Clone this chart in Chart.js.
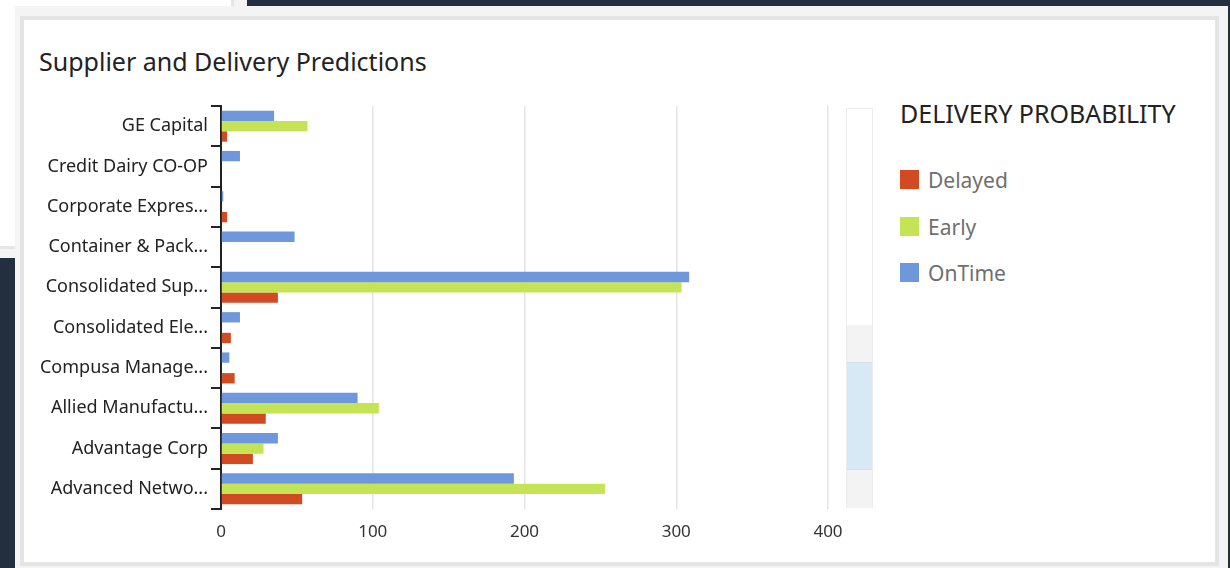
<!DOCTYPE html>
<html>
<head>
<meta charset="utf-8">
<script src="https://cdn.jsdelivr.net/npm/chart.js@4/dist/chart.umd.min.js"></script>
<style>
  html, body { margin: 0; padding: 0; }
  body { width: 1230px; height: 568px; background: #232f3e; position: relative; overflow: hidden; font-family: "Noto Sans", sans-serif; }
  .abs { position: absolute; box-sizing: border-box; }
  #backPanel { left: 0; top: 0; width: 247px; height: 258px; background: #f4f4f4; }
  #sidePanel { left: 0; top: 0; width: 234px; height: 249px; background: #fff; border-right: 3px solid #e6e6e6; border-bottom: 3px solid #e6e6e6; }
  #outer { left: 15px; top: 6px; width: 1213px; height: 570px; background: #f4f4f4; }
  #card { left: 20px; top: 16px; width: 1199px; height: 550px; background: #fff; border: 4px solid #e4e4e4; }
  #title { left: 39px; top: 44px; font-size: 25px; line-height: 34px; color: #222; white-space: nowrap; }
  #wrap { left: 24px; top: 91px; width: 840px; height: 458px; }
  #scroll { left: 846px; top: 108px; width: 27px; height: 400px; border: 1px solid #ececec; background: #fff; }
  .seg { position: absolute; left: 0; width: 25px; }
  #legendTitle { left: 900px; top: 97px; font-size: 25px; line-height: 32px; color: #222; white-space: nowrap; }
  .item { position: absolute; left: 900px; height: 20px; font-size: 21px; line-height: 20px; color: #6f6f6f; white-space: nowrap; }
  .item span { display: inline-block; width: 19px; height: 19px; vertical-align: top; margin-right: 9px; }
</style>
</head>
<body>
<div class="abs" id="backPanel"></div>
<div class="abs" id="sidePanel"></div>
<div class="abs" id="outer"></div>
<div class="abs" id="card"></div>
<div class="abs" id="title">Supplier and Delivery Predictions</div>
<div class="abs" id="wrap"><canvas id="chart"></canvas></div>
<div class="abs" id="scroll">
  <div class="seg" style="top:216px;height:37px;background:#f3f3f3;"></div>
  <div class="seg" style="top:253px;height:108px;background:#d8e9f6;border-top:1px solid #cfe0ee;border-bottom:1px solid #cfe0ee;box-sizing:border-box;"></div>
  <div class="seg" style="top:361px;height:38px;background:#f3f3f3;"></div>
</div>
<div class="abs" id="legendTitle">DELIVERY PROBABILITY</div>
<div id="legend"></div>
<script>
// Категории (сверху вниз)
const suppliers = [
    'GE Capital',
    'Credit Dairy CO-OP',
    'Corporate Expres...',
    'Container & Pack...',
    'Consolidated Sup...',
    'Consolidated Ele...',
    'Compusa Manage...',
    'Allied Manufactu...',
    'Advantage Corp',
    'Advanced Netwo...'
];

// Значения серий
const onTime  = [35, 12.5, 1.5, 48.5, 308.5, 12.5, 5.5, 90, 37.5, 193];
const early   = [57, 0, 0, 0, 303.5, 0, 0, 104, 28, 253];
const delayed = [4, 0, 4, 0, 37.5, 6.5, 9, 29.5, 21, 53.5];

const xTicks = [0, 100, 200, 300, 400];

const COLORS = { Delayed: '#d14a22', Early: '#c5e455', OnTime: '#6e97dc' };

// Легенда (HTML)
const legendItems = ['Delayed', 'Early', 'OnTime'];
const legendTops = [170, 217, 263];
legendItems.forEach((name, i) => {
    const el = document.createElement('div');
    el.className = 'item';
    el.style.top = legendTops[i] + 'px';
    el.innerHTML = `<span style="background:${COLORS[name]}"></span>${name}`;
    document.getElementById('legend').appendChild(el);
});

const ctx = document.getElementById('chart').getContext('2d');
const chart = new Chart(ctx, {
    type: 'bar',
    data: {
        labels: suppliers,
        datasets: [
            { label: 'OnTime', data: onTime, backgroundColor: COLORS.OnTime },
            { label: 'Early', data: early, backgroundColor: COLORS.Early },
            { label: 'Delayed', data: delayed, backgroundColor: COLORS.Delayed }
        ]
    },
    options: {
        indexAxis: 'y',
        responsive: true,
        maintainAspectRatio: false,
        animation: false,
        datasets: {
            bar: { categoryPercentage: 0.77, barPercentage: 1.0 }
        },
        layout: { padding: { top: 15, right: 36, left: 0, bottom: 0 } },
        plugins: {
            legend: { display: false },
            tooltip: { enabled: false }
        },
        scales: {
            x: {
                min: 0,
                max: 400,
                afterBuildTicks: (scale) => { scale.ticks = xTicks.map(v => ({ value: v })); },
                afterFit: (scale) => { scale.height = 40; },
                border: { display: false },
                grid: { color: '#e4e4e4', lineWidth: 1.5, drawTicks: false },
                ticks: { padding: 13, color: '#333', font: { family: 'Noto Sans', size: 17 } }
            },
            y: {
                afterFit: (scale) => { scale.width = 197; },
                border: { display: true, color: '#222', width: 2 },
                grid: { drawOnChartArea: false, offset: true, tickLength: 10, color: '#222', lineWidth: 2 },
                ticks: { padding: 3, color: '#222', font: { family: 'Noto Sans', size: 18 } }
            }
        }
    }
});
</script>
</body>
</html>
